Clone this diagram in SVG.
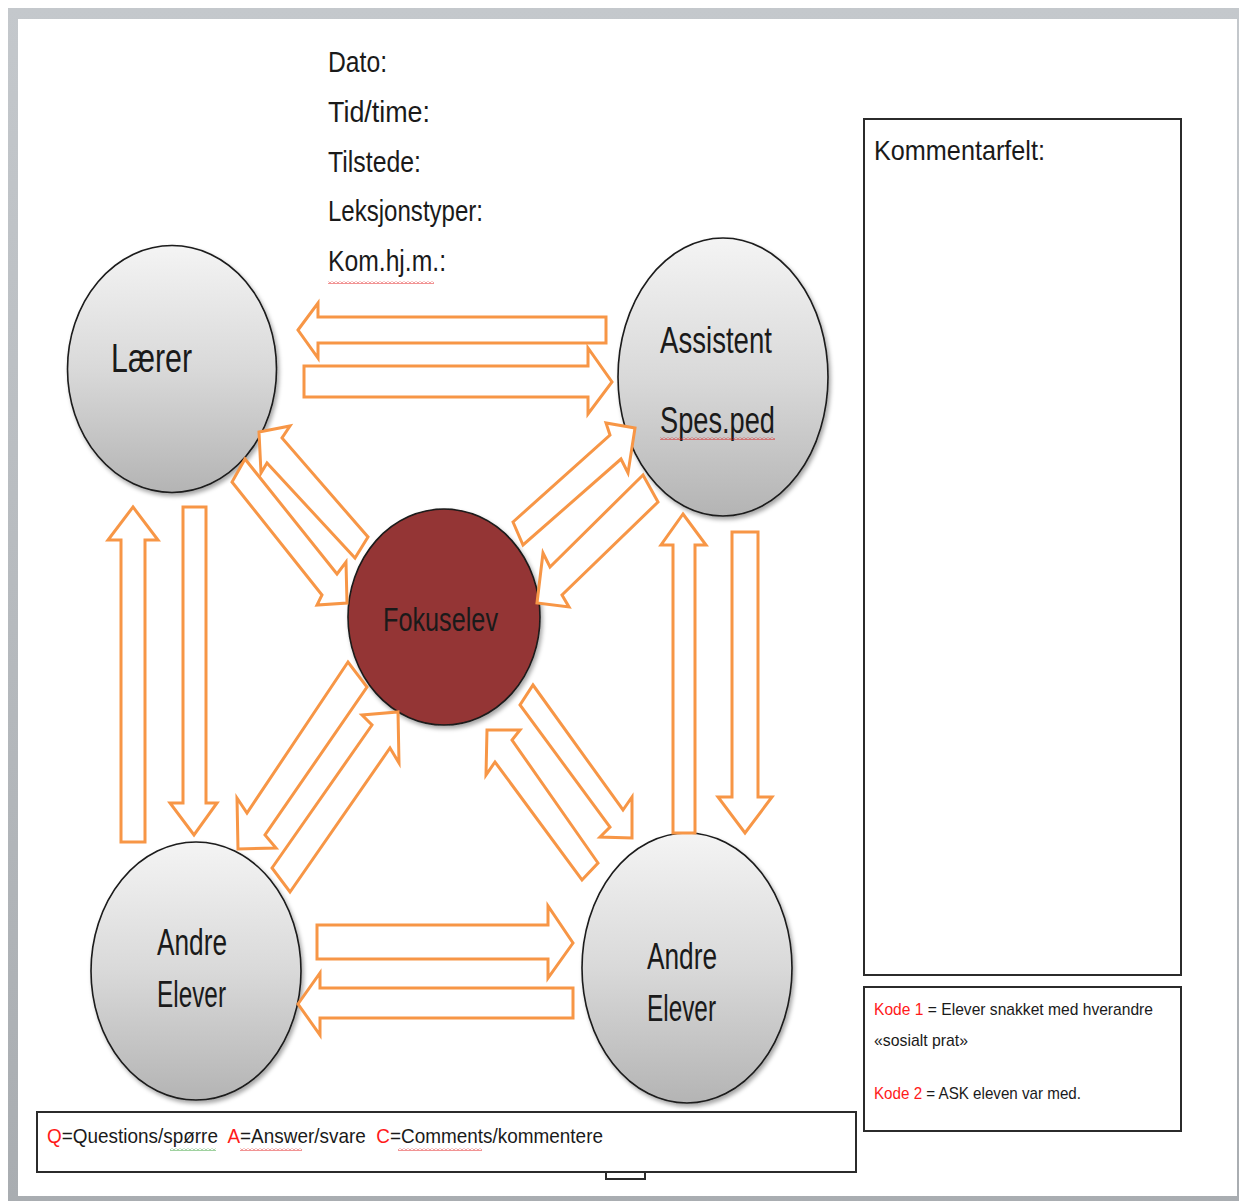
<svg xmlns="http://www.w3.org/2000/svg" width="1239" height="1201" viewBox="0 0 1239 1201">
<style>
.t{font-family:"Liberation Sans",Arial,sans-serif;fill:#1a1a1a}
.r{fill:#ff1a1a}
.ar{fill:#ffffff;stroke:#f79646;stroke-width:3;stroke-linejoin:miter}
.gc{fill:url(#gg);stroke:#1a1a1a;stroke-width:1.6;filter:url(#sh)}
.box{fill:#ffffff;stroke:#2b2b2b;stroke-width:2}
</style>
<defs>
<linearGradient id="gg" x1="0" y1="0" x2="0" y2="1">
<stop offset="0" stop-color="#f4f4f4"/>
<stop offset="0.5" stop-color="#d9d9d9"/>
<stop offset="1" stop-color="#b4b4b4"/>
</linearGradient>
<linearGradient id="fr" x1="0" y1="0" x2="0" y2="1">
<stop offset="0" stop-color="#c4c8cc"/>
<stop offset="1" stop-color="#a9adb1"/>
</linearGradient>
<filter id="sh" x="-10%" y="-10%" width="125%" height="125%">
<feDropShadow dx="2" dy="3" stdDeviation="2" flood-color="#000" flood-opacity="0.35"/>
</filter>
<pattern id="wr" width="4" height="3" patternUnits="userSpaceOnUse">
<path d="M0,2.5 L2,0.5 L4,2.5" stroke="#e01010" fill="none" stroke-width="0.9"/>
</pattern>
<pattern id="wg" width="4" height="3" patternUnits="userSpaceOnUse">
<path d="M0,2.5 L2,0.5 L4,2.5" stroke="#2a9a2a" fill="none" stroke-width="0.9"/>
</pattern>
</defs>

<g id="page">
<rect x="8" y="8" width="1231" height="1193" fill="url(#fr)"/>
<rect x="18" y="19" width="1219" height="1177" fill="#ffffff"/>
</g>

<g id="header">
<text class="t" x="328" y="72" font-size="30" textLength="59" lengthAdjust="spacingAndGlyphs">Dato:</text>
<text class="t" x="328" y="122" font-size="30" textLength="102" lengthAdjust="spacingAndGlyphs">Tid/time:</text>
<text class="t" x="328" y="172" font-size="30" textLength="93" lengthAdjust="spacingAndGlyphs">Tilstede:</text>
<text class="t" x="328" y="221" font-size="30" textLength="155" lengthAdjust="spacingAndGlyphs">Leksjonstyper:</text>
<text class="t" x="328" y="271" font-size="30" textLength="118" lengthAdjust="spacingAndGlyphs">Kom.hj.m.:</text>
<rect x="328" y="281" width="106" height="3" fill="url(#wr)"/>
</g>

<g id="kommentarfelt">
<rect class="box" x="864" y="119" width="317" height="856"/>
<text class="t" x="874" y="160" font-size="28" textLength="171" lengthAdjust="spacingAndGlyphs">Kommentarfelt:</text>
</g>

<g id="koder">
<rect class="box" x="864" y="987" width="317" height="144"/>
<text class="t" x="874" y="1015" font-size="17" textLength="279" lengthAdjust="spacingAndGlyphs"><tspan class="r">Kode  1</tspan> = Elever snakket med hverandre</text>
<text class="t" x="874" y="1046" font-size="17" textLength="94" lengthAdjust="spacingAndGlyphs">«sosialt prat»</text>
<text class="t" x="874" y="1099" font-size="17" textLength="207" lengthAdjust="spacingAndGlyphs"><tspan class="r">Kode  2</tspan> = ASK eleven var med.</text>
</g>

<g id="legend">
<rect class="box" x="606" y="1168" width="39" height="11"/>
<rect class="box" x="37" y="1112" width="819" height="60"/>
<text class="t" x="47" y="1143" font-size="21" textLength="556" lengthAdjust="spacingAndGlyphs" xml:space="preserve"><tspan class="r">Q</tspan>=Questions/spørre  <tspan class="r">A</tspan>=Answer/svare  <tspan class="r">C</tspan>=Comments/kommentere</text>
<rect x="170" y="1148" width="46" height="3" fill="url(#wg)"/>
<rect x="240" y="1148" width="62" height="3" fill="url(#wr)"/>
<rect x="398" y="1148" width="84" height="3" fill="url(#wr)"/>
</g>

<g id="laerer">
<ellipse class="gc" cx="172" cy="369" rx="104.5" ry="123.5"/>
<text class="t" x="111" y="372" font-size="40" textLength="81" lengthAdjust="spacingAndGlyphs">Lærer</text>
</g>

<g id="assistent">
<ellipse class="gc" cx="723" cy="377" rx="105" ry="139"/>
<text class="t" x="660" y="353" font-size="36" textLength="112" lengthAdjust="spacingAndGlyphs">Assistent</text>
<text class="t" x="660" y="433" font-size="36" textLength="115" lengthAdjust="spacingAndGlyphs">Spes.ped</text>
<rect x="660" y="437" width="115" height="3" fill="url(#wr)"/>
</g>

<g id="fokuselev">
<ellipse cx="444" cy="617" rx="96" ry="108" fill="#943634" stroke="#1a1a1a" stroke-width="1.6" filter="url(#sh)"/>
<text class="t" x="383" y="631" font-size="34" textLength="115" lengthAdjust="spacingAndGlyphs">Fokuselev</text>
</g>

<g id="andre-elever-venstre">
<ellipse class="gc" cx="196" cy="971" rx="105" ry="129"/>
<text class="t" x="157" y="955" font-size="36" textLength="70" lengthAdjust="spacingAndGlyphs">Andre</text>
<text class="t" x="157" y="1007" font-size="36" textLength="69" lengthAdjust="spacingAndGlyphs">Elever</text>
</g>

<g id="andre-elever-hoyre">
<ellipse class="gc" cx="687" cy="968" rx="105" ry="135"/>
<text class="t" x="647" y="969" font-size="36" textLength="70" lengthAdjust="spacingAndGlyphs">Andre</text>
<text class="t" x="647" y="1021" font-size="36" textLength="69" lengthAdjust="spacingAndGlyphs">Elever</text>
</g>

<g id="connectors">
<polygon class="ar" points="298,330 318,303 318,317 606,317 606,343 318,343 318,358"/>
<polygon class="ar" points="304,366 588,366 588,348 612,382 588,414 588,397 304,397"/>
<polygon class="ar" points="133,507 158,540 145,540 145,842 121,842 121,540 108,540"/>
<polygon class="ar" points="183,507 206,507 206,803 217,803 194,835 170,803 183,803"/>
<polygon class="ar" points="683,514 706,545 695,545 695,833 673,833 673,545 661,545"/>
<polygon class="ar" points="732,532 758,532 758,797 772,797 745,833 718,797 732,797"/>
<polygon class="ar" points="317,925 548,925 548,906 573,943 548,978 548,959 317,959"/>
<polygon class="ar" points="298,1004 320,973 320,988 573,988 573,1018 320,1018 320,1035"/>
<polygon class="ar" points="259,432 290,426 282,438 368,537 355,558 267,463 261,473"/>
<polygon class="ar" points="232,482 322,595 317,605 347,603 346,562 337,574 245,459"/>
<polygon class="ar" points="513,522 610,435 606,423 635,428 628,473 621,459 523,545"/>
<polygon class="ar" points="643,475 550,567 543,553 537,603 569,607 562,595 658,502"/>
<polygon class="ar" points="348,662 247,813 237,798 238,849 276,848 265,835 367,687"/>
<polygon class="ar" points="272,868 372,725 362,715 398,712 399,763 390,748 290,892"/>
<polygon class="ar" points="487,730 520,730 512,740 598,863 582,880 495,762 486,775"/>
<polygon class="ar" points="533,685 623,810 632,797 632,838 600,837 610,827 520,705"/>
</g>
</svg>
